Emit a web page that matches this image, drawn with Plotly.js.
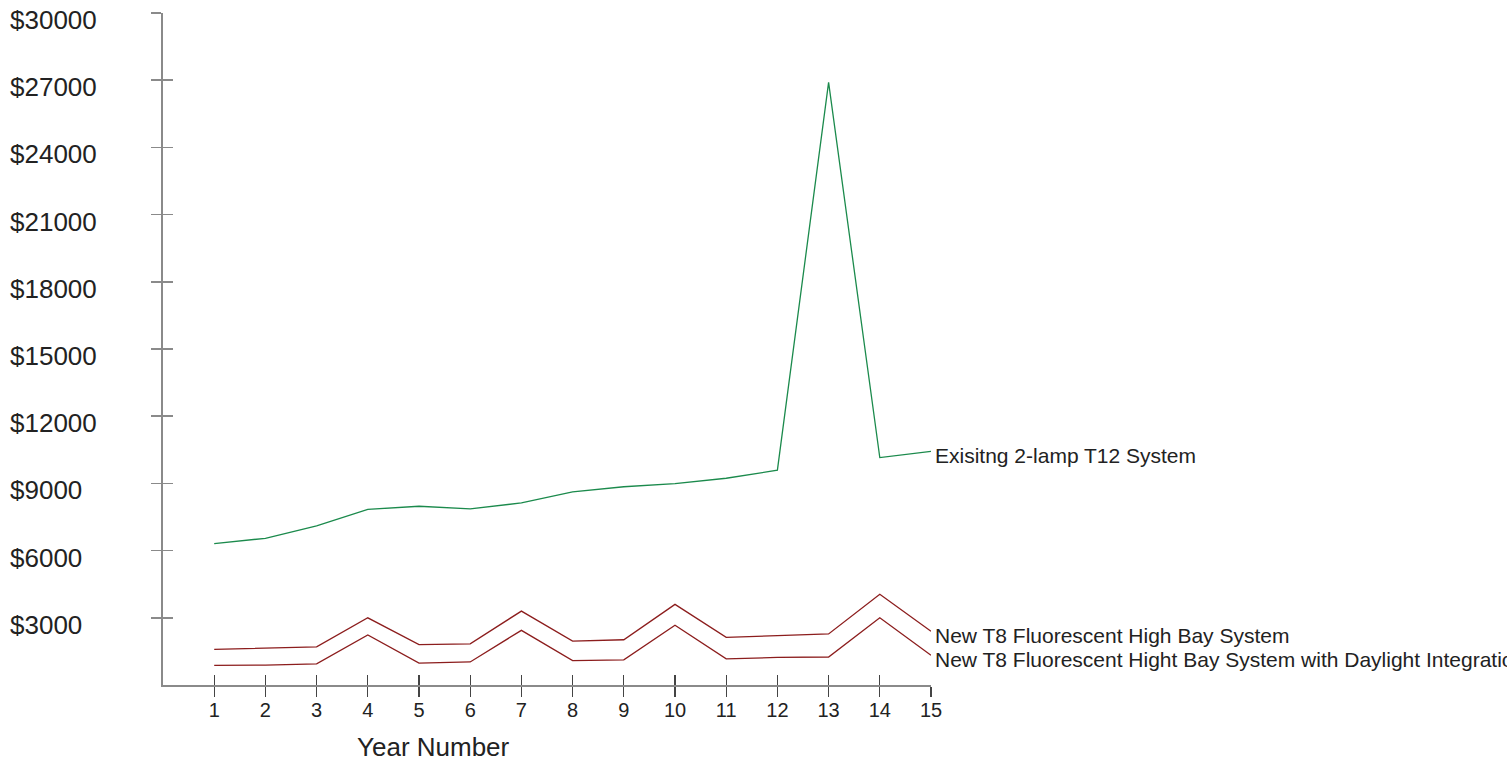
<!DOCTYPE html>
<html>
<head>
<meta charset="utf-8">
<script src="https://cdn.plot.ly/plotly-3.0.1.min.js"></script>
<style>
html,body{margin:0;padding:0;background:#fff;overflow:hidden;}
#chart{width:1507px;height:761px;}
</style>
</head>
<body>
<div id="chart"></div>
<script>
// ---- data ----
const years = [1,2,3,4,5,6,7,8,9,10,11,12,13,14,15];
const existingT12 = [6310,6550,7100,7840,7980,7860,8130,8620,8850,8990,9230,9590,26900,10150,10430];
const t8HighBay = [1590,1650,1700,3000,1800,1840,3300,1960,2020,3600,2130,2200,2280,4050,2400];
const t8Daylight = [880,890,940,2230,980,1030,2440,1090,1120,2670,1170,1230,1250,3000,1330];
const seriesNames = [
  "Exisitng 2-lamp T12 System",
  "New T8 Fluorescent High Bay System",
  "New T8 Fluorescent Hight Bay System with Daylight Integration"
];
const yTickVals = [3000,6000,9000,12000,15000,18000,21000,24000,27000,30000];
const yTickText = yTickVals.map(v => "$" + v);
const xTitle = "Year Number";

// ---- styles ----
const FONT = "Liberation Sans, Arial, Helvetica, sans-serif";
const green = "#1b8a4c";
const red = "#8c1d1d";
const axisGray = "#8a8a8a";

const allSeries = [existingT12, t8HighBay, t8Daylight];
const colors = [green, red, red];

const traces = allSeries.map((ys, i) => ({
  x: years, y: ys, type: "scatter", mode: "lines",
  name: seriesNames[i], line: {color: colors[i], width: 1.3},
  hoverinfo: "x+y", showlegend: false
}));

const annotations = [];
// series end labels
allSeries.forEach((ys, i) => {
  annotations.push({
    x: years[years.length - 1], y: ys[ys.length - 1], xref: "x", yref: "y",
    text: seriesNames[i], showarrow: false, xanchor: "left", yanchor: "middle",
    xshift: 2, yshift: -4,
    font: {family: FONT, size: 21, color: "#222"}
  });
});
// y tick labels (left aligned, slightly below ticks)
yTickVals.forEach((v, i) => {
  annotations.push({
    x: -0.2015, y: v, xref: "paper", yref: "y",
    text: yTickText[i], showarrow: false, xanchor: "left", yanchor: "middle",
    yshift: -7,
    font: {family: FONT, size: 26, color: "#222"}
  });
});
// x axis title
annotations.push({
  x: 0.352, y: -0.0923, xref: "paper", yref: "paper",
  text: xTitle, showarrow: false, xanchor: "center", yanchor: "middle",
  font: {family: FONT, size: 26, color: "#222"}
});

const layout = {
  width: 1507, height: 761,
  margin: {l: 163, r: 576, t: 13, b: 76, pad: 0},
  paper_bgcolor: "#fff", plot_bgcolor: "#fff",
  showlegend: false,
  font: {family: FONT, color: "#222"},
  xaxis: {
    range: [0, 15], tickmode: "array", tickvals: years, ticktext: years.map(String),
    ticks: "outside", ticklen: 10, tickwidth: 1.3, tickcolor: "#444",
    ticklabelstandoff: -4,
    showline: true, linecolor: axisGray, linewidth: 2,
    showgrid: false, zeroline: false,
    tickfont: {family: FONT, size: 20, color: "#222"}
  },
  xaxis2: {
    range: [0, 15], overlaying: "x", anchor: "y", side: "bottom",
    tickmode: "array", tickvals: years, showticklabels: false,
    ticks: "inside", ticklen: 10, tickwidth: 1.3, tickcolor: "#444",
    showline: false, showgrid: false, zeroline: false
  },
  yaxis: {
    range: [0, 30000], tickmode: "array", tickvals: yTickVals, showticklabels: false,
    ticks: "outside", ticklen: 10, tickwidth: 1.5, tickcolor: axisGray,
    showline: true, linecolor: axisGray, linewidth: 2,
    showgrid: false, zeroline: false
  },
  yaxis2: {
    range: [0, 30000], overlaying: "y", anchor: "x", side: "left",
    tickmode: "array", tickvals: yTickVals, showticklabels: false,
    ticks: "inside", ticklen: 10, tickwidth: 1.5, tickcolor: axisGray,
    showline: false, showgrid: false, zeroline: false
  },
  annotations: annotations
};

// invisible trace to activate the overlay axes
traces.push({x: [years[0]], y: [yTickVals[0]], xaxis: "x2", yaxis: "y2", type: "scatter", mode: "markers",
  marker: {opacity: 0}, hoverinfo: "skip", showlegend: false});

Plotly.newPlot("chart", traces, layout, {displayModeBar: false, staticPlot: true});
</script>
</body>
</html>
